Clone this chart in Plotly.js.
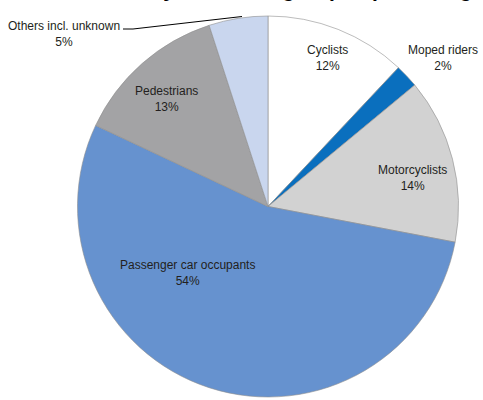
<!DOCTYPE html>
<html>
<head>
<meta charset="utf-8">
<script src="https://cdn.plot.ly/plotly-3.0.1.min.js"></script>
<style>
  html, body { margin: 0; padding: 0; background: #ffffff; }
  #chart { width: 483px; height: 400px; }
</style>
</head>
<body>
<div id="chart"></div>
<script>
// ---- data ----
var categories = ['Cyclists', 'Moped riders', 'Motorcyclists', 'Passenger car occupants', 'Pedestrians', 'Others incl. unknown'];
var shares = [12, 2, 14, 54, 13, 5];
var titleText = 'Road fatalities by road user group in percentage, 2015';

// ---- styles ----
var sliceColors = ['#ffffff', '#0a6fbe', '#d2d2d2', '#6692cf', '#a3a3a5', '#c9d6ee'];
// label block centres in pixels (layout only)
var labelPx = [[327, 58], [443, 58], [412, 178], [187, 273], [166, 99], [64, 34]];

var W = 483, H = 400;
var cx = 268, cy = 206.5, R = 190.5;

var annotations = categories.map(function (c, i) {
  return {
    text: c + '<br>' + shares[i] + '%',
    xref: 'paper', yref: 'paper',
    x: labelPx[i][0] / W, y: 1 - labelPx[i][1] / H,
    xanchor: 'center', yanchor: 'middle',
    showarrow: false,
    font: { family: 'Liberation Sans, Arial, sans-serif', size: 12, color: '#231f20' }
  };
});
annotations.push({
  text: '<b>' + titleText + '</b>',
  xref: 'paper', yref: 'paper',
  x: -1 / W, y: 1 - 3 / H,
  xanchor: 'left', yanchor: 'bottom',
  showarrow: false,
  font: { family: 'Liberation Sans, Arial, sans-serif', size: 21, color: '#000000' }
});

var trace = {
  type: 'pie',
  labels: categories,
  values: shares,
  sort: false,
  direction: 'clockwise',
  rotation: 0,
  textinfo: 'none',
  hoverinfo: 'label+percent',
  marker: { colors: sliceColors, line: { color: '#8f8f8f', width: 0.6 } },
  domain: { x: [(cx - R) / W, (cx + R) / W], y: [1 - (cy + R) / H, 1 - (cy - R) / H] }
};

var layout = {
  width: W, height: H,
  margin: { l: 0, r: 0, t: 0, b: 0 },
  paper_bgcolor: '#ffffff',
  showlegend: false,
  annotations: annotations,
  shapes: [{
    type: 'path', xref: 'paper', yref: 'paper',
    path: 'M ' + (123 / W) + ' ' + (1 - 29 / H) + ' L ' + (133 / W) + ' ' + (1 - 29 / H) + ' L ' + (242 / W) + ' ' + (1 - 16.5 / H),
    line: { color: '#000000', width: 1 }
  }]
};

Plotly.newPlot('chart', [trace], layout, { displayModeBar: false, staticPlot: true });
</script>
</body>
</html>
